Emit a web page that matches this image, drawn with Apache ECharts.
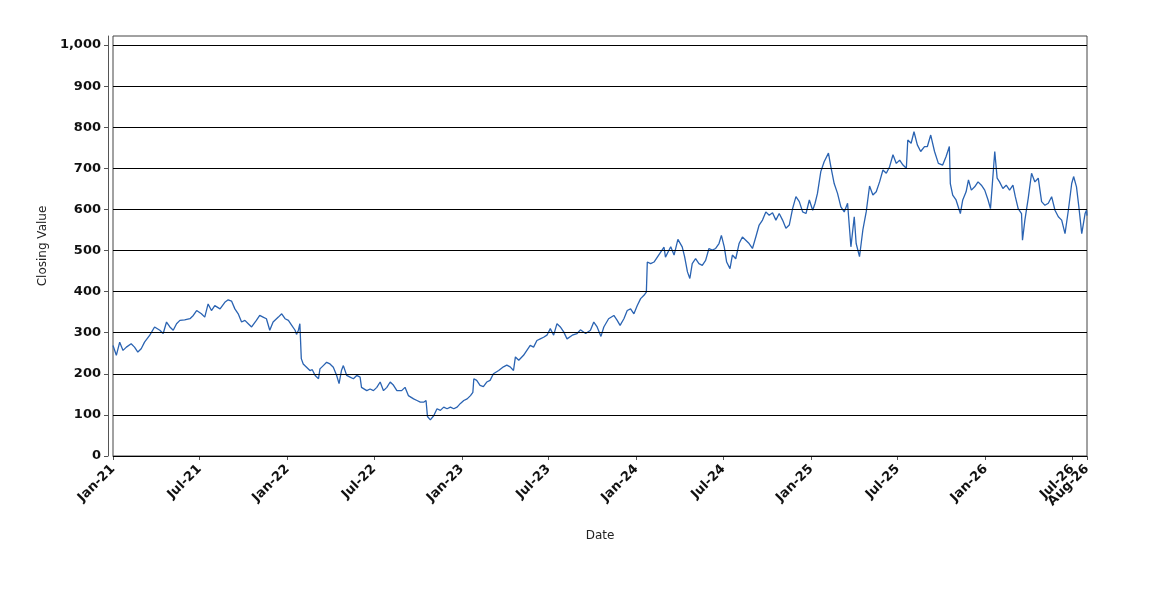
<!DOCTYPE html>
<html>
<head>
<meta charset="utf-8">
<script src="https://cdn.jsdelivr.net/npm/echarts@6/dist/echarts.min.js"></script>
<style>
html,body{margin:0;padding:0;background:#fff;}
#chart{width:1150px;height:600px;}
</style>
</head>
<body>
<div id="chart"></div>
<script>
const dates = [
'2021-01-01','2021-01-08','2021-01-15','2021-01-22','2021-01-29','2021-02-08','2021-02-15','2021-02-22','2021-03-01','2021-03-08',
'2021-03-19','2021-03-29','2021-04-09','2021-04-16','2021-04-23','2021-04-30','2021-05-07','2021-05-14','2021-05-21','2021-05-31',
'2021-06-11','2021-06-18','2021-06-25','2021-07-05','2021-07-12','2021-07-19','2021-07-26','2021-08-02','2021-08-13','2021-08-23',
'2021-08-30','2021-09-06','2021-09-13','2021-09-20','2021-09-27','2021-10-04','2021-10-11','2021-10-18','2021-10-28','2021-11-04',
'2021-11-11','2021-11-18','2021-11-25','2021-12-02','2021-12-13','2021-12-20','2021-12-27','2022-01-03','2022-01-10','2022-01-17',
'2022-01-20','2022-01-24','2022-01-27','2022-01-30','2022-02-03','2022-02-10','2022-02-17','2022-02-22','2022-02-28','2022-03-07',
'2022-03-10','2022-03-17','2022-03-24','2022-03-31','2022-04-07','2022-04-14','2022-04-19','2022-04-24','2022-04-28','2022-05-05',
'2022-05-12','2022-05-19','2022-05-26','2022-06-02','2022-06-05','2022-06-16','2022-06-23','2022-06-30','2022-07-07','2022-07-14',
'2022-07-21','2022-07-28','2022-08-04','2022-08-11','2022-08-18','2022-08-28','2022-09-04','2022-09-11','2022-09-22','2022-09-29',
'2022-10-06','2022-10-13','2022-10-18','2022-10-21','2022-10-27','2022-11-03','2022-11-10','2022-11-17','2022-11-24','2022-12-01',
'2022-12-08','2022-12-15','2022-12-22','2022-12-29','2023-01-05','2023-01-12','2023-01-19','2023-01-24','2023-01-26','2023-02-01',
'2023-02-08','2023-02-15','2023-02-22','2023-03-01','2023-03-08','2023-03-19','2023-03-29','2023-04-05','2023-04-12','2023-04-19',
'2023-04-23','2023-04-30','2023-05-10','2023-05-17','2023-05-24','2023-05-31','2023-06-07','2023-06-14','2023-06-21','2023-06-28',
'2023-07-05','2023-07-12','2023-07-19','2023-07-26','2023-08-02','2023-08-09','2023-08-20','2023-08-30','2023-09-06','2023-09-17',
'2023-09-27','2023-10-04','2023-10-11','2023-10-19','2023-10-25','2023-11-04','2023-11-15','2023-11-22','2023-11-28','2023-12-06',
'2023-12-13','2023-12-20','2023-12-27','2024-01-03','2024-01-10','2024-01-17','2024-01-22','2024-01-24','2024-01-31','2024-02-07',
'2024-02-14','2024-02-21','2024-02-28','2024-03-02','2024-03-09','2024-03-13','2024-03-20','2024-03-28','2024-04-06','2024-04-11',
'2024-04-17','2024-04-22','2024-04-27','2024-05-04','2024-05-11','2024-05-18','2024-05-25','2024-06-01','2024-06-08','2024-06-15',
'2024-06-22','2024-06-27','2024-07-03','2024-07-08','2024-07-15','2024-07-20','2024-07-27','2024-08-03','2024-08-10','2024-08-17',
'2024-08-24','2024-08-31','2024-09-07','2024-09-14','2024-09-21','2024-09-28','2024-10-05','2024-10-12','2024-10-19','2024-10-26',
'2024-11-02','2024-11-09','2024-11-16','2024-11-23','2024-11-30','2024-12-07','2024-12-14','2024-12-21','2024-12-28','2025-01-04',
'2025-01-09','2025-01-14','2025-01-21','2025-01-28','2025-02-06','2025-02-11','2025-02-18','2025-02-25','2025-03-04','2025-03-11',
'2025-03-18','2025-03-25','2025-04-01','2025-04-05','2025-04-12','2025-04-19','2025-04-26','2025-05-03','2025-05-10','2025-05-17',
'2025-05-24','2025-05-31','2025-06-07','2025-06-14','2025-06-21','2025-06-28','2025-07-05','2025-07-12','2025-07-19','2025-07-22',
'2025-07-29','2025-08-04','2025-08-11','2025-08-18','2025-08-26','2025-09-01','2025-09-08','2025-09-16','2025-09-24','2025-10-03',
'2025-10-10','2025-10-17','2025-10-19','2025-10-24','2025-10-31','2025-11-09','2025-11-14','2025-11-21','2025-11-26','2025-12-02',
'2025-12-09','2025-12-16','2025-12-23','2025-12-30','2026-01-06','2026-01-11','2026-01-14','2026-01-20','2026-01-25','2026-01-30',
'2026-02-06','2026-02-13','2026-02-20','2026-02-27','2026-03-04','2026-03-10','2026-03-17','2026-03-19','2026-03-24','2026-03-31',
'2026-04-07','2026-04-14','2026-04-21','2026-04-28','2026-05-05','2026-05-12','2026-05-19','2026-05-26','2026-06-02','2026-06-09',
'2026-06-16','2026-06-23','2026-06-30','2026-07-04','2026-07-10','2026-07-15','2026-07-21','2026-07-28','2026-07-31','2026-08-01'
];
const closingValues = [
269,245,277,257,265,273,265,253,261,277,
294,314,306,298,326,314,306,322,330,331,
334,342,354,346,338,370,354,366,358,374,
380,377,358,346,326,330,322,314,330,342,
338,334,306,326,338,346,334,330,318,306,
296,306,322,237,224,216,208,210,196,188,
212,220,228,224,216,196,176,208,220,196,
192,188,196,192,167,159,163,159,167,180,
159,167,180,172,159,159,167,147,139,135,
131,131,135,96,88,98,115,111,119,115,
119,115,119,128,135,139,147,155,188,184,
172,169,180,184,200,208,217,221,217,208,
241,233,245,257,269,265,281,285,289,294,
310,294,322,314,302,285,294,298,307,298,
306,326,314,291,314,334,342,330,318,334,
354,358,346,366,383,391,399,472,468,472,
484,496,508,484,500,509,489,527,509,485,
448,432,468,480,468,464,476,505,501,505,
517,537,509,472,456,489,480,517,533,525,
517,505,533,562,574,594,586,592,574,590,
574,554,562,602,631,619,594,590,623,598,
615,639,692,716,737,704,663,639,606,594,
615,509,582,517,485,550,594,657,635,643,
667,696,688,704,733,712,720,708,700,769,
761,789,757,741,753,753,781,741,712,708,
728,753,663,635,623,590,623,643,672,647,
655,667,659,647,623,602,647,741,676,667,
651,659,647,659,631,602,590,525,574,627,
688,667,676,619,610,615,631,598,582,574,
541,598,663,680,655,606,541,590,598,585
];
const yTicks = [0,100,200,300,400,500,600,700,800,900,1000];
const xTickDates = [
'2021-01-01','2021-07-01','2022-01-01','2022-07-01','2023-01-01','2023-07-01','2024-01-01','2024-07-01',
'2025-01-01','2025-07-01','2026-01-01','2026-07-01','2026-08-01'
];
const monthNames = ['Jan','Feb','Mar','Apr','May','Jun','Jul','Aug','Sep','Oct','Nov','Dec'];

function toTime(s){ const p = s.split('-'); return Date.UTC(+p[0], +p[1]-1, +p[2]); }
const xTickValues = xTickDates.map(toTime);
// the crowded second-to-last label is drawn by an overlay axis so it is not dropped
const xMainLabels = xTickValues.filter((v,i)=> i !== xTickValues.length-2);
const xExtraLabels = [xTickValues[xTickValues.length-2]];
const seriesData = dates.map((d,i)=>[toTime(d), closingValues[i]]);

const chart = echarts.init(document.getElementById('chart'), null, {renderer:'canvas'});
const tickFont = {fontFamily:'DejaVu Sans', fontWeight:'bold', fontSize:13, color:'#111'};
const nameFont = {fontFamily:'DejaVu Sans', fontSize:12, color:'#222'};
function fmtMonth(v){ const d=new Date(v); return monthNames[d.getUTCMonth()]+'-'+String(d.getUTCFullYear()).slice(2); }
const xMin = xTickValues[0], xMax = xTickValues[xTickValues.length-1];
chart.setOption({
  animation:false,
  backgroundColor:'#ffffff',
  grid:{left:113, right:63, top:36, bottom:144, show:true, borderColor:'#444', borderWidth:1, backgroundColor:'transparent'},
  xAxis:[{
    type:'value',
    position:'bottom',
    min:xMin,
    max:xMax,
    offset:5,
    name:'Date',
    nameLocation:'middle',
    nameGap:69,
    nameTextStyle:nameFont,
    axisLine:{show:true, lineStyle:{color:'#555', width:1}},
    axisTick:{show:true, length:4, lineStyle:{color:'#555'}, customValues:xTickValues},
    axisLabel:Object.assign({
      customValues:xMainLabels,
      rotate:45,
      margin:6,
      showMinLabel:true,
      showMaxLabel:true,
      formatter:fmtMonth
    }, tickFont),
    splitLine:{show:false}
  },{
    type:'value',
    position:'bottom',
    min:xMin,
    max:xMax,
    offset:5,
    axisLine:{show:false},
    axisTick:{show:false},
    axisLabel:Object.assign({
      customValues:xExtraLabels,
      rotate:45,
      margin:6,
      formatter:fmtMonth
    }, tickFont),
    splitLine:{show:false}
  }],
  yAxis:{
    type:'value',
    min:0,
    max:1022,
    offset:5,
    name:'Closing Value',
    nameLocation:'middle',
    nameRotate:90,
    nameGap:55,
    nameTextStyle:nameFont,
    axisLine:{show:true, lineStyle:{color:'#555', width:1}},
    axisTick:{show:true, length:4, lineStyle:{color:'#555'}, customValues:yTicks},
    axisLabel:Object.assign({
      customValues:yTicks,
      margin:7,
      formatter:function(v){ return Number(v).toLocaleString('en-US'); }
    }, tickFont),
    splitLine:{show:false}
  },
  series:[{
    type:'line',
    xAxisIndex:0,
    data:seriesData,
    showSymbol:false,
    symbol:'none',
    lineStyle:{color:'#2a63b2', width:1.3},
    itemStyle:{color:'#2a63b2'},
    markLine:{
      silent:true,
      symbol:'none',
      label:{show:false},
      lineStyle:{color:'#000', width:1, type:'solid'},
      data:yTicks.map(v=>({yAxis:v}))
    }
  }]
});
</script>
</body>
</html>
